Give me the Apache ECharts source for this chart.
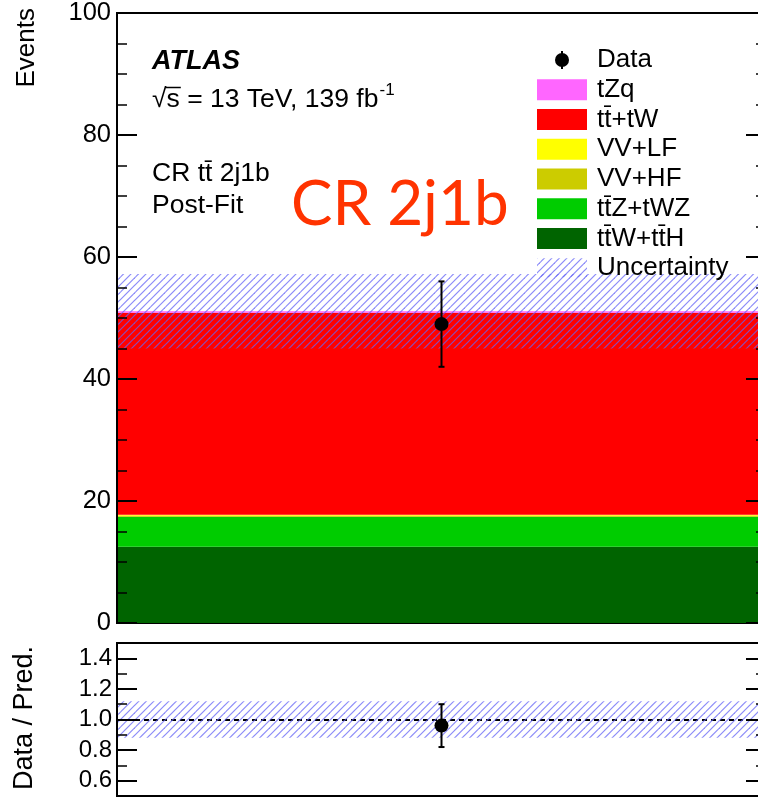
<!DOCTYPE html>
<html><head><meta charset="utf-8">
<script src="https://cdn.jsdelivr.net/npm/echarts@6/dist/echarts.min.js"></script>
<style>html,body{margin:0;padding:0;background:#fff}#c{width:758px;height:797px}</style>
</head><body><div id="c"></div><script>
// ---------- data ----------
const categories = ['CR 2j1b'];
const ttWttH = [12.5];
const ttZtWZ = [4.9];
const vvHF = [0.2];
const vvLF = [0.15];
const ttbarTW = [33.1];
const tZq = [0.25];
const dataValues = [49];
const dataErrLow = [42];
const dataErrHigh = [56];
const uncLow = [45.0];
const uncHigh = [57.2];
const ratioValues = [0.96];
const ratioErrLow = [0.82];
const ratioErrHigh = [1.10];
const ratioUncLow = [0.88];
const ratioUncHigh = [1.12];
const mainTicks = [0, 20, 40, 60, 80, 100];
const ratioTicks = [0.6, 0.8, 1.0, 1.2, 1.4];
const legendNames = ['Data', 'tZq', 't\u0074\u0304+tW', 'VV+LF', 'VV+HF', 't\u0074\u0304Z+tWZ', 't\u0074\u0304W+t\u0074\u0304H', 'Uncertainty'];
const stackNames = ['t\u0074\u0304W+t\u0074\u0304H', 't\u0074\u0304Z+tWZ', 'VV+HF', 'VV+LF', 't\u0074\u0304+tW', 'tZq'];
const stackValues = [ttWttH, ttZtWZ, vvHF, vvLF, ttbarTW, tZq];
const stackColors = ['#006400', '#00cc00', '#cccc00', '#ffff00', '#ff0000', '#ff66ff'];

const FONT = '"Liberation Sans", Arial, Helvetica, sans-serif';

// hatch pattern
function makeHatch() {
  const S = 15, c = document.createElement('canvas');
  c.width = S; c.height = S;
  const g = c.getContext('2d');
  g.strokeStyle = 'rgba(100,100,245,0.75)';
  g.lineWidth = 1.2;
  for (let k = 0; k <= 2 * S; k += 7.5) {
    g.beginPath(); g.moveTo(k + 2, -2); g.lineTo(k - S - 2, S + 2); g.stroke();
  }
  return c;
}
const hatch = makeHatch();
const hatchFill = { image: hatch, repeat: 'repeat' };

const measure = (() => { const g = document.createElement('canvas').getContext('2d'); return (t, f) => { g.font = f; return g.measureText(t).width; }; })();

const chart = echarts.init(document.getElementById('c'), null, { renderer: 'canvas' });

function bandItem(params, api) {
  const lo = api.coord([api.value(0), api.value(1)]);
  const hi = api.coord([api.value(0), api.value(2)]);
  const w = api.size([1, 0])[0];
  return { type: 'rect', shape: { x: lo[0] - w / 2, y: hi[1], width: w, height: lo[1] - hi[1] }, style: { fill: hatchFill } };
}
function pointItem(params, api) {
  const c = api.coord([api.value(0), api.value(1)]);
  const lo = api.coord([api.value(0), api.value(2)]);
  const hi = api.coord([api.value(0), api.value(3)]);
  const st = { stroke: '#000', lineWidth: 2 };
  return { type: 'group', children: [
    { type: 'line', shape: { x1: c[0], y1: lo[1], x2: c[0], y2: hi[1] }, style: st },
    { type: 'line', shape: { x1: c[0] - 3, y1: lo[1], x2: c[0] + 3, y2: lo[1] }, style: st },
    { type: 'line', shape: { x1: c[0] - 3, y1: hi[1], x2: c[0] + 3, y2: hi[1] }, style: st },
    { type: 'circle', shape: { cx: c[0], cy: c[1], r: 7 }, style: { fill: '#000' } }
  ] };
}

const series = [];
stackNames.forEach((n, k) => {
  series.push({ name: n, type: 'bar', stack: 'mc', xAxisIndex: 0, yAxisIndex: 0,
    barWidth: '100%', barCategoryGap: '0%', data: stackValues[k], itemStyle: { color: stackColors[k] }, silent: true });
});
series.push({ name: 'Uncertainty', type: 'custom', xAxisIndex: 0, yAxisIndex: 0, renderItem: bandItem,
  encode: { x: 0, y: [1, 2] }, data: categories.map((c, i) => [i, uncLow[i], uncHigh[i]]), z: 5 });
series.push({ name: 'Data', type: 'custom', xAxisIndex: 0, yAxisIndex: 0, renderItem: pointItem,
  encode: { x: 0, y: [1, 2, 3] }, data: categories.map((c, i) => [i, dataValues[i], dataErrLow[i], dataErrHigh[i]]), z: 10 });
series.push({ name: 'RatioUnc', type: 'custom', xAxisIndex: 1, yAxisIndex: 2, renderItem: bandItem,
  encode: { x: 0, y: [1, 2] }, data: categories.map((c, i) => [i, ratioUncLow[i], ratioUncHigh[i]]), z: 5,
  markLine: { silent: true, symbol: 'none', label: { show: false }, lineStyle: { color: '#000', width: 2, type: [5, 4] }, data: [{ yAxis: 1 }] } });
series.push({ name: 'Ratio', type: 'custom', xAxisIndex: 1, yAxisIndex: 2, renderItem: pointItem,
  encode: { x: 0, y: [1, 2, 3] }, data: categories.map((c, i) => [i, ratioValues[i], ratioErrLow[i], ratioErrHigh[i]]), z: 10 });

const lineBlack = { color: '#000', width: 2 };
const majorTick = (extra) => Object.assign({ show: true, inside: true, length: 20, lineStyle: { color: '#000', width: 2 } }, extra || {});
const minorTickSty = () => ({ show: true, inside: true, length: 10, lineStyle: { color: '#000', width: 1.5 } });
const catAxis = (gi) => ({ type: 'category', gridIndex: gi, data: categories, axisLine: { show: false }, axisTick: { show: false }, axisLabel: { show: false }, splitLine: { show: false } });

// graphics: texts and legend
const graphics = [];
const T = (text, x, y, size, opts = {}) => graphics.push({ type: 'text', x, y, z: 100, rotation: opts.rotation || 0,
  style: Object.assign({ text, fontSize: size, fontFamily: opts.family || FONT, fontWeight: opts.weight || 'normal', fontStyle: opts.style || 'normal',
    fill: opts.fill || '#000', align: opts.align || 'left', verticalAlign: opts.valign || 'middle', textAlign: opts.align || 'left', textVerticalAlign: opts.valign || 'middle' }) });

T('Events', 27, 8, 26, { rotation: Math.PI / 2, align: 'right' });
T('Data / Pred.', 25, 718, 27, { rotation: Math.PI / 2, align: 'center' });
T('ATLAS', 152, 62, 27, { weight: 'bold', style: 'italic' });
const sLine = '\u221As = 13 TeV, 139 fb';
const sSize = 26.5;
T(sLine, 152, 100, sSize);
const fnt = sSize + 'px ' + FONT;
const wS = measure(sLine, fnt), wRoot = measure('\u221A', fnt), wRootS = measure('\u221As', fnt);
T('-1', 152 + wS + 1, 90, 17);
graphics.push({ type: 'line', z: 100, shape: { x1: 152 + wRoot - 1, y1: 87.5, x2: 152 + wRootS + 1, y2: 87.5 }, style: { stroke: '#000', lineWidth: 1.5 } });
T('CR t\u0074\u0304 2j1b', 152, 174, 26.5);
T('Post-Fit', 152, 206, 26.5);
T('CR 2j1b', 291, 205, 62, { family: 'Lato, "Open Sans", sans-serif', fill: '#ff3300' });

// legend
const legY0 = 60, legDY = 29.75, boxX = 537, boxW = 50, boxH = 21, textX = 597;
legendNames.forEach((n, i) => {
  const y = legY0 + i * legDY;
  if (n === 'Data') {
    graphics.push({ type: 'line', z: 100, shape: { x1: boxX + boxW / 2, y1: y - 9, x2: boxX + boxW / 2, y2: y + 9 }, style: { stroke: '#000', lineWidth: 2 } });
    graphics.push({ type: 'circle', z: 100, shape: { cx: boxX + boxW / 2, cy: y, r: 7 }, style: { fill: '#000' } });
  } else if (n === 'Uncertainty') {
    graphics.push({ type: 'rect', z: 100, shape: { x: boxX, y: y - 10, width: boxW, height: 19 }, style: { fill: hatchFill } });
  } else {
    const k = stackNames.indexOf(n);
    graphics.push({ type: 'rect', z: 100, shape: { x: boxX, y: y - boxH / 2, width: boxW, height: boxH }, style: { fill: stackColors[k] } });
  }
  T(n, textX, y, 26);
});

chart.setOption({
  animation: false,
  backgroundColor: '#fff',
  grid: [
    { left: 117, top: 13, width: 649, height: 610, show: true, borderColor: '#000', borderWidth: 2, backgroundColor: 'transparent', outerBoundsMode: 'none', containLabel: false },
    { left: 117, top: 643, width: 649, height: 153, show: true, borderColor: '#000', borderWidth: 2, backgroundColor: 'transparent', outerBoundsMode: 'none', containLabel: false }
  ],
  xAxis: [catAxis(0), catAxis(1)],
  yAxis: [
    { type: 'value', gridIndex: 0, position: 'left', z: 20, min: mainTicks[0], max: mainTicks[mainTicks.length - 1], interval: 20,
      axisLine: { show: true, lineStyle: lineBlack }, axisTick: majorTick(),
      minorTick: { show: true, splitNumber: 4, length: 10, lineStyle: { color: '#000', width: 1.5 } },
      axisLabel: { fontSize: 25.5, fontFamily: FONT, color: '#000', margin: 6 }, splitLine: { show: false } },
    { type: 'value', gridIndex: 0, position: 'right', z: 20, min: mainTicks[0], max: mainTicks[mainTicks.length - 1], interval: 20,
      axisLine: { show: true, lineStyle: lineBlack }, axisTick: majorTick(),
      minorTick: { show: true, splitNumber: 4, length: 10, lineStyle: { color: '#000', width: 1.5 } },
      axisLabel: { show: false }, splitLine: { show: false } },
    { type: 'value', gridIndex: 1, position: 'left', z: 20, min: 0.5, max: 1.5,
      axisLine: { show: true, lineStyle: lineBlack },
      axisTick: majorTick({ customValues: ratioTicks }),
      axisLabel: { fontSize: 24, fontFamily: FONT, color: '#000', margin: 5, customValues: ratioTicks, formatter: v => Number(v).toFixed(1) },
      splitLine: { show: false } },
    { type: 'value', gridIndex: 1, position: 'left', z: 20, min: 0.5, max: 1.5, interval: 0.1,
      axisLine: { show: false }, axisTick: minorTickSty(),
      axisLabel: { show: false }, splitLine: { show: false } },
    { type: 'value', gridIndex: 1, position: 'right', z: 20, min: 0.5, max: 1.5,
      axisLine: { show: true, lineStyle: lineBlack },
      axisTick: majorTick({ customValues: ratioTicks }),
      axisLabel: { show: false }, splitLine: { show: false } },
    { type: 'value', gridIndex: 1, position: 'right', z: 20, min: 0.5, max: 1.5, interval: 0.1,
      axisLine: { show: false }, axisTick: minorTickSty(),
      axisLabel: { show: false }, splitLine: { show: false } }
  ],
  series,
  graphic: graphics
});
</script></body></html>
